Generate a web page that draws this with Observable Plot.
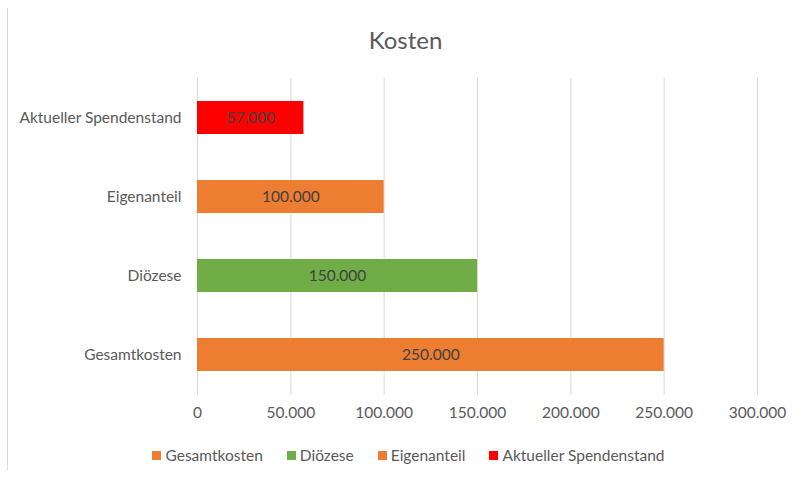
<!DOCTYPE html>
<html>
<head>
<meta charset="utf-8">
<script src="https://cdn.jsdelivr.net/npm/d3@7"></script>
<script src="https://cdn.jsdelivr.net/npm/@observablehq/plot@0.6"></script>
<style>
  html, body { margin: 0; padding: 0; background: #fff; }
  #wrap { position: relative; width: 799px; height: 478px; font-family: Lato, "Open Sans", sans-serif; overflow: hidden; }
  #border { position: absolute; left: 7px; top: 8px; width: 1px; height: 462px; background: #d9d9d9; }
  #title { height: 62px; line-height: 80px; text-align: center; font-size: 24px; color: #595959; padding-left: 12px; box-sizing: border-box; }
  #legend { display: flex; justify-content: center; gap: 24px; padding-top: 16px; padding-left: 18px; font-size: 15.5px; color: #595959; }
  #legend .item { display: flex; align-items: center; gap: 4px; }
  #legend .sw { width: 9px; height: 9px; display: inline-block; }
  svg { display: block; }
</style>
</head>
<body>
<div id="wrap">
  <div id="border"></div>
  <div id="title">Kosten</div>
  <div id="chart"></div>
  <div id="legend"></div>
</div>
<script>
const categories = ["Gesamtkosten", "Diözese", "Eigenanteil", "Aktueller Spendenstand"];
const values = [250000, 150000, 100000, 57000];
const xTicks = [0, 50000, 100000, 150000, 200000, 250000, 300000];

const palette = ["#ED7D31", "#70AD47", "#ED7D31", "#FF0000"];
const de = d3.formatLocale({decimal: ",", thousands: ".", grouping: [3], currency: ["", " €"]});
const fmt = de.format(",d");

const data = categories.map((c, i) => ({category: c, value: values[i]}));

const plot = Plot.plot({
  width: 799,
  height: 368,
  marginTop: 16,
  marginBottom: 35,
  marginLeft: 197,
  marginRight: 42,
  style: {fontFamily: "Lato, 'Open Sans', sans-serif", fontSize: "15.5px", color: "#595959", background: "#fff"},
  x: {domain: [0, 300000], ticks: xTicks, tickFormat: fmt, tickSize: 0, tickPadding: 11, label: null},
  y: {domain: categories.slice().reverse(), paddingInner: 0.58, paddingOuter: 0.29, tickSize: 0, tickPadding: 16, label: null},
  color: {domain: categories, range: palette},
  marks: [
    Plot.gridX(xTicks, {stroke: "#d9d9d9", strokeOpacity: 1, strokeWidth: 1}),
    Plot.barX(data, {x: "value", y: "category", fill: "category"}),
    Plot.text(data, {x: d => d.value / 2, y: "category", text: d => fmt(d.value), fill: "#404040", fontSize: 15.5}),
    Plot.axisX({ticks: xTicks, tickFormat: fmt, tickSize: 0, tickPadding: 11, fill: "#595959"}),
    Plot.axisY({tickSize: 0, tickPadding: 16, fill: "#595959"})
  ]
});
document.getElementById("chart").appendChild(plot);

const legend = document.getElementById("legend");
categories.forEach((c, i) => {
  const item = document.createElement("div");
  item.className = "item";
  const sw = document.createElement("span");
  sw.className = "sw";
  sw.style.background = palette[i];
  const lab = document.createElement("span");
  lab.textContent = c;
  item.appendChild(sw);
  item.appendChild(lab);
  legend.appendChild(item);
});
</script>
</body>
</html>
